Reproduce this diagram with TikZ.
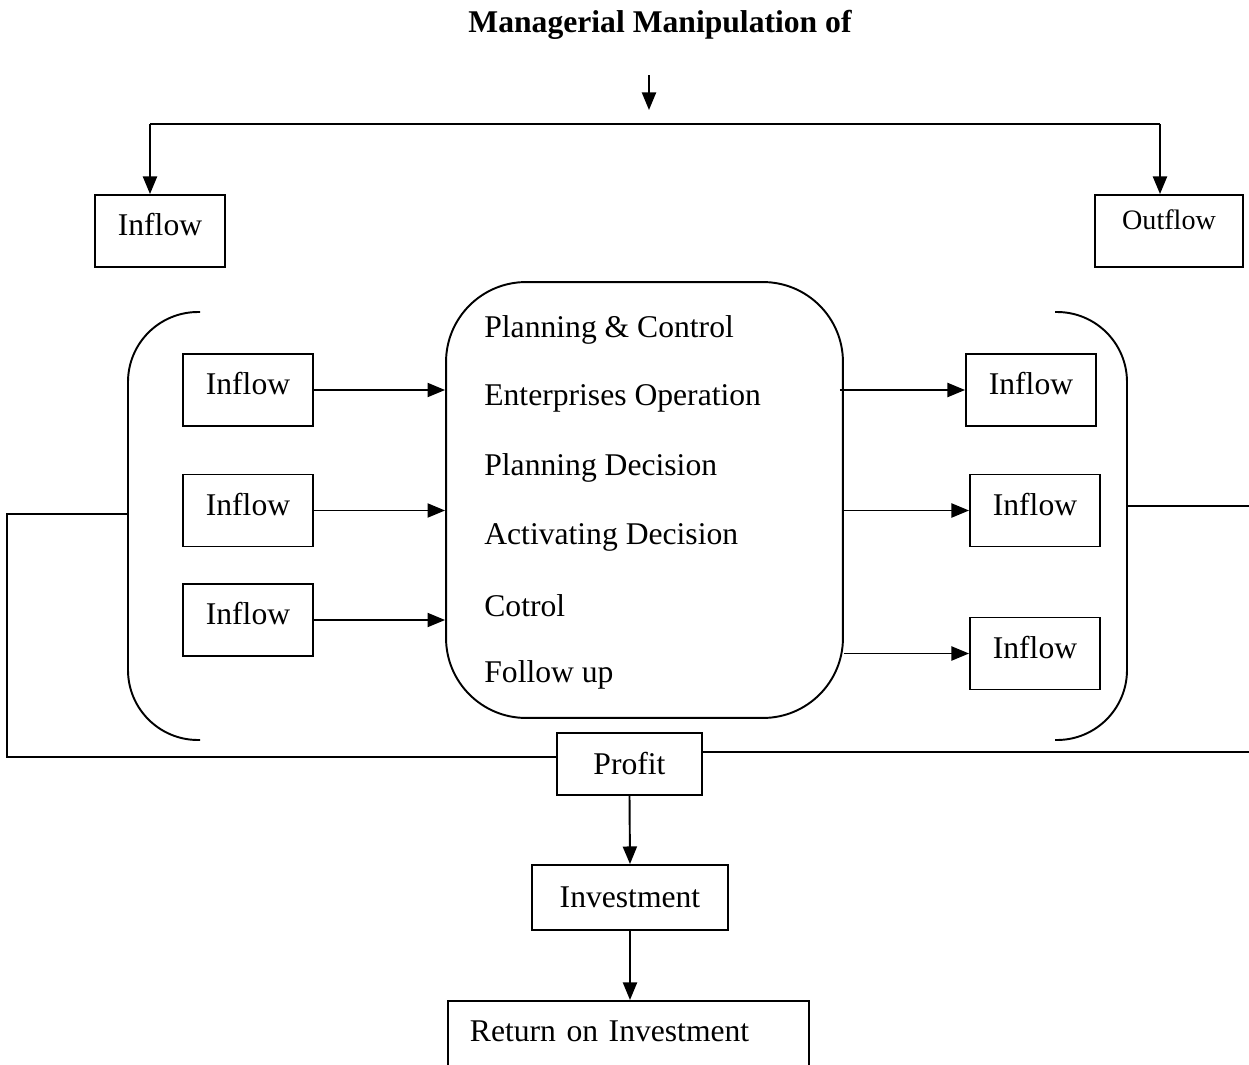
\documentclass[tikz,border=0pt]{standalone}
\usepackage{fontspec}
\setmainfont{Liberation Serif}
\usetikzlibrary{arrows.meta}

\begin{document}
\begin{tikzpicture}[x=0.02cm, y=-0.02cm,
  line/.style={line width=1.1pt},
  arr/.style={line width=1.1pt, -{Triangle[length=10pt, width=8pt]}},
  flowbox/.style={draw, line width=1.1pt, minimum width=2.6cm,
    minimum height=1.44cm, inner sep=0pt, text depth=0.26cm,
    font=\fontsize{18}{22}\selectfont},
  plainbox/.style={draw, line width=1.1pt, inner sep=0pt,
    font=\fontsize{18}{22}\selectfont},
  item/.style={anchor=west, inner sep=0pt, font=\fontsize{18}{22}\selectfont},
  bracket/.style={line width=1.1pt, rounded corners=1.4cm},
]
  \useasboundingbox (0,0) rectangle (1249,1065);

  % === TOP ===
  \node[font=\fontsize{18}{22}\selectfont\bfseries] (title) at (660,25)
    {Managerial Manipulation of};
  \coordinate (mtop) at (649,75);
  \coordinate (mbot) at (649,110);
  \draw[arr] (mtop) -- (mbot);

  \node[flowbox] (inT) at (160,231) {Inflow};
  \node[flowbox, minimum width=2.96cm, text depth=0.44cm,
    font=\fontsize{16}{20}\selectfont] (outT) at (1169,231) {Outflow};

  \coordinate (barL) at (150,124);
  \coordinate (barR) at (1160,124);
  \draw[line] (barL) -- (barR);
  \draw[arr] (barL) -- (barL |- inT.north);
  \draw[arr] (barR) -- (barR |- outT.north);

  % === CORE ===
  \node[draw, line width=1.1pt, rounded corners=1.6cm, minimum width=7.94cm,
    minimum height=8.72cm] (core) at (644.5,500) {};
  \foreach \y/\t [count=\i] in {330/Planning \& Control, 398/Enterprises Operation,
      468/Planning Decision, 537/Activating Decision, 606/Cotrol, 675/Follow up} {
    \node[item] (item\i) at (484,\y) {\t};
  }

  % Brackets
  \draw[bracket] (200,312) -- (128,312) -- (128,740) -- (200,740);
  \draw[bracket] (1055,312) -- (1127,312) -- (1127,740) -- (1055,740);

  % Left inflows
  \foreach \i/\y in {1/390, 2/510.5, 3/620} {
    \node[flowbox] (lin\i) at (248,\y) {Inflow};
    \draw[arr] (lin\i.east) -- (lin\i.east -| core.west);
  }

  % Right inflows
  \node[flowbox] (rin1) at (1031,390) {Inflow};
  \node[flowbox] (rin2) at (1035,510.5) {Inflow};
  \node[flowbox] (rin3) at (1035,653.5) {Inflow};
  \draw[arr] ([xshift=-0.08cm]rin1.west -| core.east) -- (rin1.west);
  \foreach \i in {2,3} {
    \draw[arr] (rin\i.west -| core.east) -- (rin\i.west);
  }

  % === BOTTOM ===
  \node[plainbox, minimum width=2.9cm, minimum height=1.24cm] (profit)
    at (629.5,764) {Profit};
  \node[plainbox, minimum width=3.92cm, minimum height=1.3cm] (invest)
    at (630,897.5) {Investment};
  \node[plainbox, anchor=north west, minimum width=7.22cm, minimum height=1.6cm,
    text width=6.34cm, inner xsep=0.44cm, align=left, text depth=0.4cm] (roi)
    at (447,1000) {Return on Investment};
  \draw[arr] (profit.south) -- (invest.north);
  \draw[arr] (invest.south) -- (roi.north -| invest.south);

  % Feedback lines
  \coordinate (lbr) at (128,514);
  \coordinate (loopL) at (7,514);
  \coordinate (rbr) at (1127,506);
  \coordinate (edgeR1) at (1249,506);
  \coordinate (edgeR2) at (1249,752);
  \draw[line] (lbr) -- (loopL) |- ([yshift=0.14cm]profit.west);
  \draw[line] (rbr) -- (edgeR1);
  \draw[line] ([yshift=0.24cm]profit.east) -- (edgeR2);
\end{tikzpicture}
\end{document}
